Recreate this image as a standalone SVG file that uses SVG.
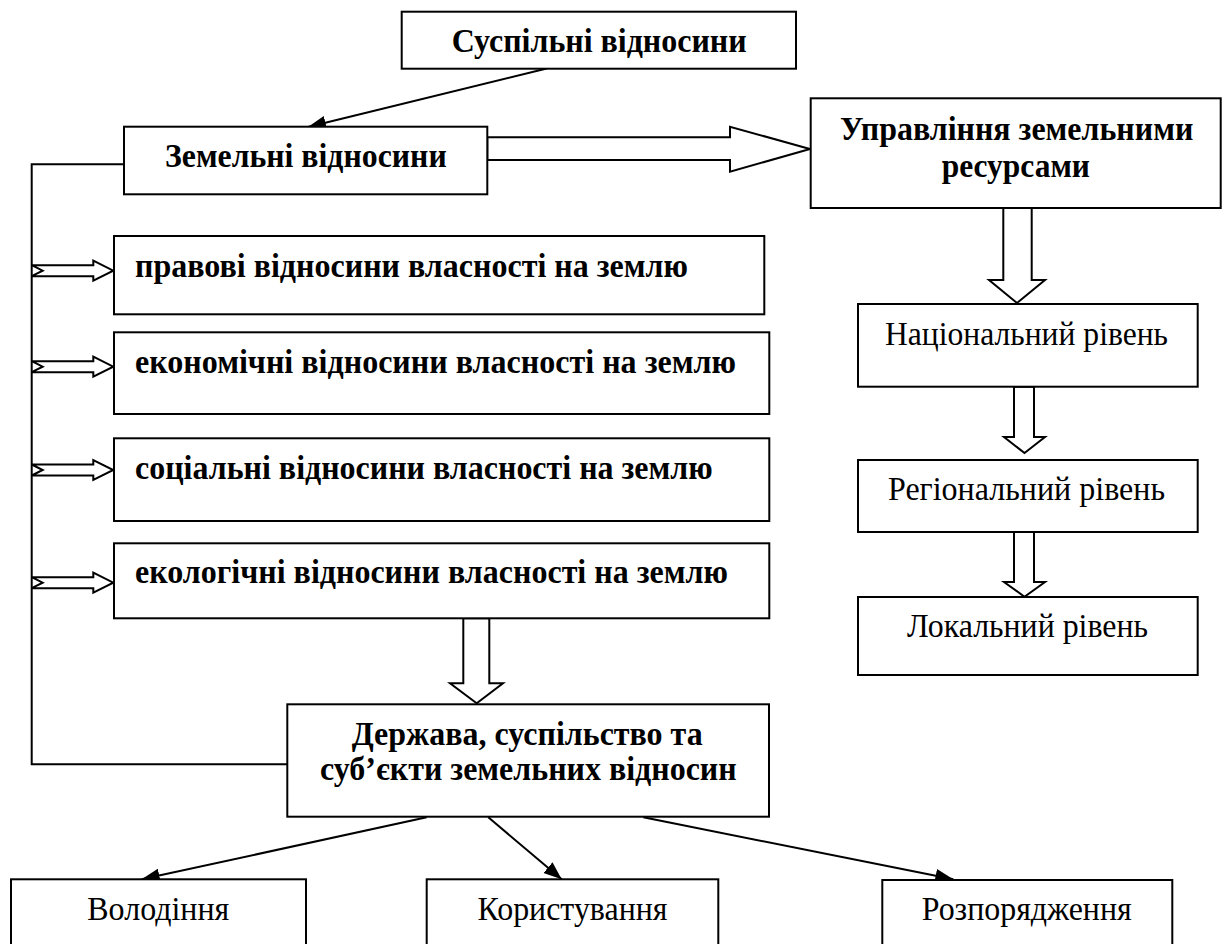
<svg xmlns="http://www.w3.org/2000/svg" width="1222" height="944" viewBox="0 0 1222 944">
  <style>
    .box { fill: #ffffff; stroke: #000000; stroke-width: 2; }
    .b { font-family: "Liberation Serif", "DejaVu Serif", serif; font-weight: bold; font-size: 34px; fill: #000; }
    .r { font-family: "Liberation Serif", "DejaVu Serif", serif; font-size: 33px; fill: #000; }
    .ln { fill: none; stroke: #000; stroke-width: 2; }
    .hollow { fill: #ffffff; stroke: #000; stroke-width: 2; stroke-linejoin: miter; }
  </style>
  <defs>
    <marker id="ah" markerUnits="userSpaceOnUse" markerWidth="20" markerHeight="16" viewBox="0 0 20 16" refX="18" refY="8" orient="auto">
      <path d="M0,1 L18,8 L0,15 Z" fill="#000"/>
    </marker>
  </defs>

  <rect width="1222" height="944" fill="#ffffff"/>

  <g id="connectors">
    <line class="ln" x1="546.7" y1="68.5" x2="308" y2="127" marker-end="url(#ah)"/>
    <polyline class="ln" points="124,164.3 31.7,164.3 31.7,764.3 287.3,764.3"/>
    <polygon class="hollow" points="487.3,137.3 730,137.3 730,126.7 810,149 730,171.7 730,160 487.3,160"/>
    <polygon class="hollow" points="1003.3,208 1031.7,208 1031.7,280 1045,280 1017,303 989,280 1003.3,280"/>
    <polygon class="hollow" points="1014,386.7 1034,386.7 1034,437 1045,437 1024.5,453 1004,437 1014,437"/>
    <polygon class="hollow" points="1014,532 1034,532 1034,582 1045,582 1024.5,596.7 1004,582 1014,582"/>
    <polygon class="hollow" points="463.3,618.3 489.3,618.3 489.3,683.3 503,683.3 476.7,703.3 450,683.3 463.3,683.3"/>
    <polygon class="hollow" points="31.7,265.2 93.3,265.2 93.3,260.7 113.3,270.7 93.3,280.7 93.3,276.2 31.7,276.2 42.7,270.7"/>
    <polygon class="hollow" points="31.7,361.2 93.3,361.2 93.3,356.7 113.3,366.7 93.3,376.7 93.3,372.2 31.7,372.2 42.7,366.7"/>
    <polygon class="hollow" points="31.7,464.5 93.3,464.5 93.3,460 113.3,470 93.3,480 93.3,475.5 31.7,475.5 42.7,470"/>
    <polygon class="hollow" points="31.7,577.2 93.3,577.2 93.3,572.7 113.3,582.7 93.3,592.7 93.3,588.2 31.7,588.2 42.7,582.7"/>
    <line class="ln" x1="426.7" y1="817.3" x2="141.7" y2="879.3" marker-end="url(#ah)"/>
    <line class="ln" x1="488.3" y1="817.3" x2="561.7" y2="879.3" stroke-width="1.5" marker-end="url(#ah)"/>
    <line class="ln" x1="643.3" y1="817.3" x2="953.3" y2="879.3" marker-end="url(#ah)"/>
  </g>

  <g id="n-suspilni">
    <rect class="box" x="401.7" y="11.7" width="394.3" height="57"/>
    <text class="b" x="451.7" y="52" textLength="295" lengthAdjust="spacingAndGlyphs">Суспільні відносини</text>
  </g>
  <g id="n-zemelni">
    <rect class="box" x="124" y="126.7" width="363.3" height="67.6"/>
    <text class="b" x="165" y="166.7" textLength="281.7" lengthAdjust="spacingAndGlyphs">Земельні відносини</text>
  </g>
  <g id="n-upravlinnia">
    <rect class="box" x="810.7" y="98.3" width="410" height="109.7"/>
    <text class="b" x="840" y="140" textLength="353.3" lengthAdjust="spacingAndGlyphs">Управління земельними</text>
    <text class="b" x="941.7" y="176.7" textLength="148.3" lengthAdjust="spacingAndGlyphs">ресурсами</text>
  </g>
  <g id="n-pravovi">
    <rect class="box" x="114" y="236" width="650.3" height="78.3"/>
    <text class="b" x="135" y="277.3" textLength="553" lengthAdjust="spacingAndGlyphs">правові відносини власності на землю</text>
  </g>
  <g id="n-ekonomichni">
    <rect class="box" x="114" y="332.3" width="655.3" height="81.7"/>
    <text class="b" x="135" y="373.3" textLength="601" lengthAdjust="spacingAndGlyphs">економічні відносини власності на землю</text>
  </g>
  <g id="n-sotsialni">
    <rect class="box" x="114" y="438.3" width="655.3" height="82.7"/>
    <text class="b" x="135" y="479.3" textLength="577.7" lengthAdjust="spacingAndGlyphs">соціальні відносини власності на землю</text>
  </g>
  <g id="n-ekolohichni">
    <rect class="box" x="114" y="543.3" width="655.3" height="75"/>
    <text class="b" x="135" y="582.7" textLength="593" lengthAdjust="spacingAndGlyphs">екологічні відносини власності на землю</text>
  </g>
  <g id="n-derzhava">
    <rect class="box" x="287.3" y="704.3" width="481.7" height="112.4"/>
    <text class="b" x="351.7" y="745" textLength="351" lengthAdjust="spacingAndGlyphs">Держава, суспільство та</text>
    <text class="b" x="320" y="780" textLength="416.7" lengthAdjust="spacingAndGlyphs">суб’єкти земельних відносин</text>
  </g>
  <g id="n-natsionalnyi">
    <rect class="box" x="858" y="304" width="339.7" height="82.7"/>
    <text class="r" x="885" y="345" textLength="283" lengthAdjust="spacingAndGlyphs">Національний рівень</text>
  </g>
  <g id="n-rehionalnyi">
    <rect class="box" x="858" y="460" width="339.7" height="72"/>
    <text class="r" x="888" y="500" textLength="277" lengthAdjust="spacingAndGlyphs">Регіональний рівень</text>
  </g>
  <g id="n-lokalnyi">
    <rect class="box" x="858" y="597" width="339.7" height="78"/>
    <text class="r" x="907" y="636.7" textLength="241" lengthAdjust="spacingAndGlyphs">Локальний рівень</text>
  </g>
  <g id="n-volodinnia">
    <rect class="box" x="11" y="879.3" width="295" height="75"/>
    <text class="r" x="87.3" y="920" textLength="142" lengthAdjust="spacingAndGlyphs">Володіння</text>
  </g>
  <g id="n-korystuvannia">
    <rect class="box" x="426.7" y="879.3" width="291.6" height="75"/>
    <text class="r" x="477.5" y="920" textLength="190" lengthAdjust="spacingAndGlyphs">Користування</text>
  </g>
  <g id="n-rozporiadzhennia">
    <rect class="box" x="882.3" y="880" width="290" height="75"/>
    <text class="r" x="921.7" y="920" textLength="210" lengthAdjust="spacingAndGlyphs">Розпорядження</text>
  </g>
</svg>
